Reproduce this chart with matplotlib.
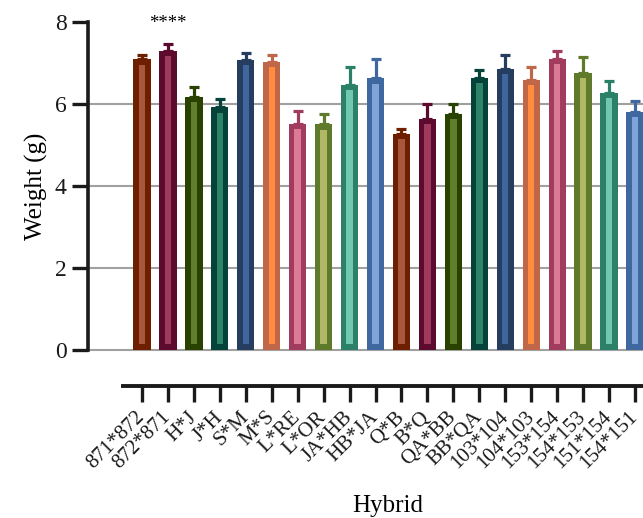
import matplotlib
matplotlib.use("Agg")
import matplotlib.pyplot as plt
import numpy as np

hybrids = ["871*872", "872*871", "H*J", "J*H", "S*M", "M*S", "L*RE", "L*OR",
           "JA*HB", "HB*JA", "Q*B", "B*Q", "QA*BB", "BB*QA", "103*104", "104*103",
           "153*154", "154*153", "151*154", "154*151"]
means = [7.09, 7.29, 6.17, 5.91, 7.07, 7.02, 5.51, 5.50, 6.46, 6.62,
         5.27, 5.63, 5.76, 6.63, 6.85, 6.59, 7.10, 6.76, 6.27, 5.80]
sds = [0.09, 0.17, 0.24, 0.20, 0.17, 0.16, 0.31, 0.24, 0.44, 0.46,
       0.11, 0.36, 0.23, 0.19, 0.34, 0.30, 0.18, 0.38, 0.29, 0.27]
yticks = [0, 2, 4, 6, 8]
sig_label = "****"

edge_colors = ["#6e1f00", "#5c0a2e", "#2a4200", "#05433a", "#253d5e",
               "#c0674a", "#a23c5e", "#5e7a2a", "#2d8068", "#4068a0"]
fill_colors = ["#a8563c", "#9e3a5e", "#5f7f2c", "#2e8468", "#4066a0",
               "#ff8c3f", "#dc7a98", "#b0b866", "#70c8b0", "#80a4d8"]

plt.rcParams['font.family'] = ['Liberation Serif', 'DejaVu Serif']

fig = plt.figure(figsize=(6.43, 5.18), dpi=100)
ax = fig.add_axes([88/643, 132/518, 560/643, (386-21.7)/518])

x = np.arange(len(hybrids))
ec = [edge_colors[i % 10] for i in range(len(x))]
fc = [fill_colors[i % 10] for i in range(len(x))]

outer_w = 0.667
inner_w = 0.245
pad = 5.5 / 41.0

# error bars (upper only), behind bars
for xi, m, s, c in zip(x, means, sds, ec):
    ax.errorbar(xi, m, yerr=[[0], [s]], fmt='none', ecolor=c, elinewidth=2.3,
                capsize=3.3, capthick=2.3, zorder=2)

ax.bar(x, means, width=outer_w, color=ec, zorder=3, linewidth=0)
inner_h = [m - 2 * pad for m in means]
ax.bar(x, inner_h, width=inner_w, bottom=pad, color=fc, zorder=4, linewidth=0)

ax.text(x[1], 7.96, sig_label, ha='center', va='center', fontsize=13.5, clip_on=False)

ax.set_ylim(-0.88, 8)
ax.set_xlim(-2.08, 19.5)
ax.set_yticks(yticks)
ax.set_xticks(x)
ax.set_xticklabels(hybrids, rotation=45, ha='right', va='center', rotation_mode='anchor',
                   fontsize=15)
ax.tick_params(axis='y', labelsize=17, length=11.5, width=2.4, direction='out', pad=4)
ax.tick_params(axis='x', length=11.5, width=2.4, direction='out', pad=9)

for sp in ['top', 'right']:
    ax.spines[sp].set_visible(False)
ax.spines['left'].set_linewidth(2.6)
ax.spines['left'].set_bounds(0, 8)
ax.spines['bottom'].set_linewidth(2.8)
ax.spines['bottom'].set_bounds(-0.73, 19.5)
for sp in ['left', 'bottom']:
    ax.spines[sp].set_color('#1a1a1a')
ax.tick_params(colors='#1a1a1a')

ax.yaxis.grid(True, color='#a0a0a0', linewidth=1.5, zorder=0)
ax.set_axisbelow(True)
gl = ax.get_ygridlines()
gl[-1].set_visible(False)

ax.set_ylabel("Weight (g)", fontsize=18)
ax.yaxis.set_label_coords(-0.0714, 0.549)
ax.set_xlabel("Hybrid", fontsize=18)
ax.xaxis.set_label_coords(0.536, -0.30)

fig.savefig("out.png", dpi=100)
